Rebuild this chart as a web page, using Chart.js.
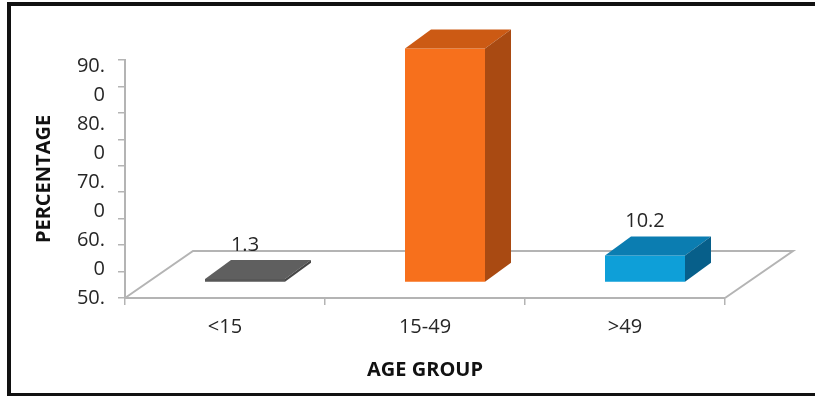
<!DOCTYPE html>
<html>
<head>
<meta charset="utf-8">
<script src="https://cdn.jsdelivr.net/npm/chart.js@4.4.1/dist/chart.umd.min.js"></script>
<style>
  html, body { margin: 0; padding: 0; background: #fff; overflow: hidden; }
  #wrap { position: relative; width: 815px; height: 396px; }
  #frame { position: absolute; left: 7px; top: 2px; width: 900px; height: 395px; box-sizing: border-box; border: 4px solid #111; pointer-events: none; }
</style>
</head>
<body>
<div id="wrap">
  <canvas id="chart" width="815" height="396"></canvas>
  <div id="frame"></div>
</div>
<script>
// ─── Data ─────────────────────────────────────────────────────────────────────
const ageGroups = ['<15', '15-49', '>49'];
const percentages = [1.3, 88.5, 10.2];
const labelShown = [true, false, true];   // source chart has no label on 15-49
const yTickLabels = ['50.', '0', '60.', '0', '70.', '0', '80.', '0', '90.'];

// ─── Look ─────────────────────────────────────────────────────────────────────
const frontColors = ['#575757', '#f7701c', '#0e9fd8'];
const topColors = ['#5f5f5f', '#cc5a14', '#0b7db1'];
const sideColors = ['#474747', '#a94a12', '#075f8a'];
const AXIS = '#b4b4b4';
const DEPTH = { dx: 26, dy: -19 };     // bar depth
const FLOOR = { dx: 68, dy: -47 };     // floor depth
const SHIFT = { dx: 20, dy: -15.5 };   // bars stand a third into the floor

Chart.defaults.font.family = "'Open Sans', sans-serif";
Chart.defaults.font.size = 20;
Chart.defaults.color = '#262626';

// ─── Fake 3D: floor, then shifted bars with top & side faces ─────────────────
const bars3d = {
  id: 'bars3d',
  beforeDatasetsDraw(chart) {
    const { ctx, chartArea: a } = chart;
    ctx.save();
    ctx.strokeStyle = AXIS;
    ctx.lineWidth = 2;
    ctx.beginPath();
    ctx.moveTo(a.left, a.bottom);
    ctx.lineTo(a.left + FLOOR.dx, a.bottom + FLOOR.dy);
    ctx.lineTo(a.right + FLOOR.dx, a.bottom + FLOOR.dy);
    ctx.lineTo(a.right, a.bottom);
    ctx.stroke();
    ctx.restore();
    ctx.save();
    ctx.translate(SHIFT.dx, SHIFT.dy);
  },
  afterDatasetsDraw(chart) {
    const ctx = chart.ctx;
    chart.getDatasetMeta(0).data.forEach((bar, i) => {
      const { x, y, base, width } = bar.getProps(['x', 'y', 'base', 'width'], true);
      const l = x - width / 2, r = x + width / 2;
      ctx.fillStyle = topColors[i];
      ctx.beginPath();
      ctx.moveTo(l, y);
      ctx.lineTo(l + DEPTH.dx, y + DEPTH.dy);
      ctx.lineTo(r + DEPTH.dx, y + DEPTH.dy);
      ctx.lineTo(r, y);
      ctx.closePath();
      ctx.fill();
      ctx.fillStyle = sideColors[i];
      ctx.beginPath();
      ctx.moveTo(r, y);
      ctx.lineTo(r + DEPTH.dx, y + DEPTH.dy);
      ctx.lineTo(r + DEPTH.dx, base + DEPTH.dy);
      ctx.lineTo(r, base);
      ctx.closePath();
      ctx.fill();
      if (labelShown[i]) {
        ctx.fillStyle = '#262626';
        ctx.font = "20px 'Open Sans', sans-serif";
        ctx.textAlign = 'center';
        ctx.textBaseline = 'middle';
        ctx.fillText(percentages[i].toFixed(1), x, y + DEPTH.dy - 15);
      }
    });
    ctx.restore();
  }
};

new Chart(document.getElementById('chart'), {
  type: 'bar',
  data: {
    labels: ageGroups,
    datasets: [{
      data: percentages,
      backgroundColor: frontColors,
      borderWidth: 0,
      categoryPercentage: 1,
      barPercentage: 0.4,
      yAxisID: 'y'
    }]
  },
  options: {
    responsive: false,
    animation: false,
    layout: { padding: { left: 0, top: 60, right: 90, bottom: 0 } },
    plugins: { legend: { display: false }, tooltip: { enabled: false } },
    scales: {
      x: {
        grid: { drawOnChartArea: false, tickLength: 7, color: AXIS, lineWidth: 1.5 },
        border: { color: AXIS, width: 2 },
        ticks: { padding: 10 },
        title: { display: true, text: 'AGE GROUP', color: '#111', font: { weight: 'bold', size: 20 }, padding: { top: 0, bottom: 14 } },
        afterFit: s => { s.height = 98; }
      },
      y: {
        min: 0,
        max: 90,
        ticks: { display: false, stepSize: 10 },
        grid: { drawOnChartArea: false, tickLength: 7, color: AXIS, lineWidth: 1.5 },
        border: { color: AXIS, width: 2 },
        afterFit: s => { s.width = 8; }
      },
      yl: {
        position: 'left',
        weight: 1,
        min: 0,
        max: 8.235,
        grid: { display: false, drawTicks: false },
        border: { display: false },
        ticks: { stepSize: 1, includeBounds: false, padding: 12, autoSkip: false, callback: v => yTickLabels[v] ?? '' },
        title: { display: true, text: 'PERCENTAGE', color: '#111', font: { weight: 'bold', size: 20 }, padding: { top: 32, bottom: 0 } },
        afterFit: s => { s.width = 117; }
      }
    }
  },
  plugins: [bars3d]
});
</script>
</body>
</html>
